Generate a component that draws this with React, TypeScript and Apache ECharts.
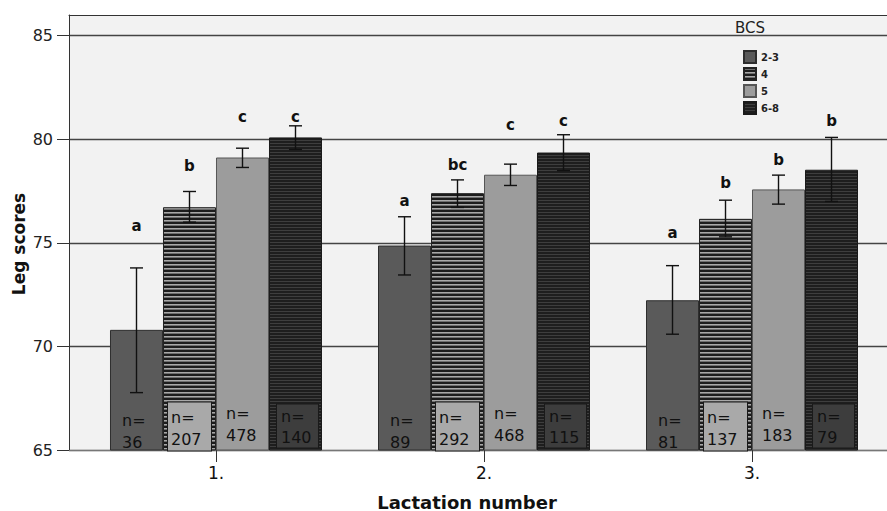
import React, { useEffect, useRef } from "react";
import * as echarts from "echarts";

const categories = ["1.", "2.", "3."];
const bcsGroups = ["2-3", "4", "5", "6-8"];
const yTicks = [65, 70, 75, 80, 85];

// mean leg score per BCS group, for lactation 1, 2, 3
const means = [
  [70.8, 74.87, 72.23],
  [76.72, 77.4, 76.16],
  [79.12, 78.29, 77.58],
  [80.09, 79.36, 78.53],
];
const errLow = [
  [67.77, 73.45, 70.59],
  [76.0, 76.71, 75.29],
  [78.64, 77.77, 76.87],
  [79.51, 78.49, 77.0],
];
const errHigh = [
  [73.79, 76.26, 73.9],
  [77.48, 78.04, 77.06],
  [79.57, 78.8, 78.27],
  [80.65, 80.22, 80.09],
];
const nCounts = [
  [36, 89, 81],
  [207, 292, 137],
  [478, 468, 183],
  [140, 115, 79],
];
const letters = [
  ["a", "a", "a"],
  ["b", "bc", "b"],
  ["c", "c", "b"],
  ["c", "c", "b"],
];
const letterY = [
  [75.79, 77.03, 75.5],
  [78.69, 78.77, 77.88],
  [81.09, 80.7, 79.01],
  [81.1, 80.86, 80.86],
];

const BAR_W = 53;
const X_MIN = 0.4515;
const X_MAX = 3.5037;
const FONT = "DejaVu Sans";

function stripe(rows: string[]) {
  const c = document.createElement("canvas");
  c.width = 4;
  c.height = rows.length;
  const ctx = c.getContext("2d")!;
  rows.forEach((col, i) => {
    ctx.fillStyle = col;
    ctx.fillRect(0, i, 4, 1);
  });
  return { image: c, repeat: "repeat", imageWidth: 4, imageHeight: rows.length } as any;
}

export default function App() {
  const ref = useRef<HTMLDivElement>(null);
  useEffect(() => {
    if (!ref.current) return;
    const chart = echarts.init(ref.current, null, { renderer: "svg" });

    const fills: any[] = [
      "#5a5a5a",
      stripe(["#a8a8a8", "#6e6e6e", "#1c1c1c", "#1c1c1c"]),
      "#9c9c9c",
      stripe(["#1e1e1e", "#1e1e1e", "#3e3e3e"]),
    ];
    const borders = ["#2e2e2e", "#222", "#555", "#1a1a1a"];

    const labelCfg: any[] = [
      { offset: [12, 3], lineHeight: 22 },
      {
        offset: [5, 0],
        lineHeight: 22,
        backgroundColor: "#a9a9a9",
        borderColor: "#1a1a1a",
        borderWidth: 1,
        padding: [4, 0, 0, 3],
        width: 40,
      },
      { offset: [10, -4], lineHeight: 22 },
      {
        offset: [8, -3],
        lineHeight: 21,
        backgroundColor: "#3d3d3d",
        borderColor: "#1a1a1a",
        borderWidth: 1,
        padding: [1, 0, 0, 4],
        width: 37,
      },
    ];

    const barSeries = bcsGroups.map((g, si) => ({
      type: "bar",
      name: g,
      data: means[si].map((v, ci) => [ci + 1, v]),
      barWidth: BAR_W,
      barGap: "0%",
      itemStyle: { color: fills[si], borderColor: borders[si], borderWidth: 1 },
      label: {
        show: true,
        position: "insideBottomLeft",
        distance: 0,
        formatter: (p: any) => `n=\n${nCounts[si][p.dataIndex]}`,
        fontFamily: FONT,
        fontSize: 16,
        color: "#111",
        align: "left",
        ...labelCfg[si],
      },
      z: 2,
    }));

    const errData: number[][] = [];
    const letterItems: { x: number; y: number; si: number; t: string }[] = [];
    bcsGroups.forEach((_, si) => {
      categories.forEach((_c, ci) => {
        errData.push([ci + 1, errLow[si][ci], errHigh[si][ci], si]);
        letterItems.push({ x: ci + 1, y: letterY[si][ci], si, t: letters[si][ci] });
      });
    });

    const errSeries = {
      type: "custom",
      name: "err",
      data: errData,
      z: 5,
      silent: true,
      renderItem: (params: any, api: any) => {
        const si = api.value(3);
        const off = (si - 1.5) * BAR_W;
        const top = api.coord([api.value(0), api.value(2)]);
        const bot = api.coord([api.value(0), api.value(1)]);
        const x = top[0] + off;
        const cw = 6.5;
        const st = { stroke: "#111", lineWidth: 1.4 };
        return {
          type: "group",
          children: [
            { type: "line", shape: { x1: x, y1: top[1], x2: x, y2: bot[1] }, style: st },
            { type: "line", shape: { x1: x - cw, y1: top[1], x2: x + cw, y2: top[1] }, style: st },
            { type: "line", shape: { x1: x - cw, y1: bot[1], x2: x + cw, y2: bot[1] }, style: st },
          ],
        };
      },
    };

    const letterSeries = {
      type: "custom",
      name: "letters",
      data: letterItems.map((d) => [d.x, d.y, d.si]),
      z: 6,
      silent: true,
      renderItem: (params: any, api: any) => {
        const si = api.value(2);
        const p = api.coord([api.value(0), api.value(1)]);
        return {
          type: "text",
          x: p[0] + (si - 1.5) * BAR_W,
          y: p[1],
          style: {
            text: letterItems[params.dataIndex].t,
            fontFamily: FONT,
            fontSize: 15,
            fontWeight: "bold",
            fill: "#111",
            align: "center",
            verticalAlign: "middle",
          },
        };
      },
    };

    const catValues = categories.map((_, i) => i + 1);

    chart.setOption({
      animation: false,
      backgroundColor: "#ffffff",
      grid: {
        left: 69,
        right: 0,
        top: 15,
        bottom: 61,
        show: true,
        backgroundColor: "#f2f2f2",
        borderWidth: 0,
      },
      legend: {
        orient: "vertical",
        left: 738,
        top: 45,
        itemWidth: 12,
        itemHeight: 12,
        itemGap: 3,
        icon: "rect",
        data: bcsGroups,
        textStyle: { fontFamily: FONT, fontWeight: "bold", fontSize: 10, color: "#222" },
      },
      xAxis: [
        {
          type: "value",
          min: X_MIN,
          max: X_MAX,
          axisLine: { show: true, lineStyle: { color: "#777", width: 1 } },
          splitLine: { show: false },
          axisTick: { show: true, customValues: catValues, length: 12, lineStyle: { color: "#333" } },
          axisLabel: {
            customValues: catValues,
            formatter: (v: number) => categories[Math.round(v) - 1] ?? "",
            fontFamily: FONT,
            fontSize: 17,
            color: "#111",
            margin: 14,
          },
        },
        {
          type: "value",
          position: "top",
          min: X_MIN,
          max: X_MAX,
          axisLine: { show: true, onZero: false, lineStyle: { color: "#333", width: 1 } },
          axisTick: { show: false },
          axisLabel: { show: false },
          splitLine: { show: false },
        },
      ],
      yAxis: {
        type: "value",
        min: 65,
        max: 86,
        axisLine: { show: true, lineStyle: { color: "#333" } },
        axisTick: { show: true, customValues: yTicks, length: 12, lineStyle: { color: "#333" } },
        axisLabel: {
          customValues: yTicks,
          fontFamily: FONT,
          fontSize: 16,
          color: "#222",
          margin: 16,
        },
        splitLine: { show: true, lineStyle: { color: "#444", width: 1.4 } },
      },
      graphic: [
        {
          type: "text",
          x: 19,
          y: 244,
          rotation: Math.PI / 2,
          style: {
            text: "Leg scores",
            fontFamily: FONT,
            fontWeight: "bold",
            fontSize: 17,
            fill: "#111",
            align: "center",
            verticalAlign: "middle",
          },
        },
        {
          type: "text",
          x: 467,
          y: 502,
          style: {
            text: "Lactation number",
            fontFamily: FONT,
            fontWeight: "bold",
            fontSize: 18,
            fill: "#111",
            align: "center",
            verticalAlign: "middle",
          },
        },
        {
          type: "text",
          x: 735,
          y: 28,
          style: {
            text: "BCS",
            fontFamily: FONT,
            fontSize: 15,
            fill: "#222",
            align: "left",
            verticalAlign: "middle",
          },
        },
      ],
      series: [...barSeries, errSeries, letterSeries],
    });

    return () => chart.dispose();
  }, []);

  return (
    <div
      ref={ref}
      style={{ position: "fixed", left: 0, top: 0, width: 887, height: 511 }}
    />
  );
}
